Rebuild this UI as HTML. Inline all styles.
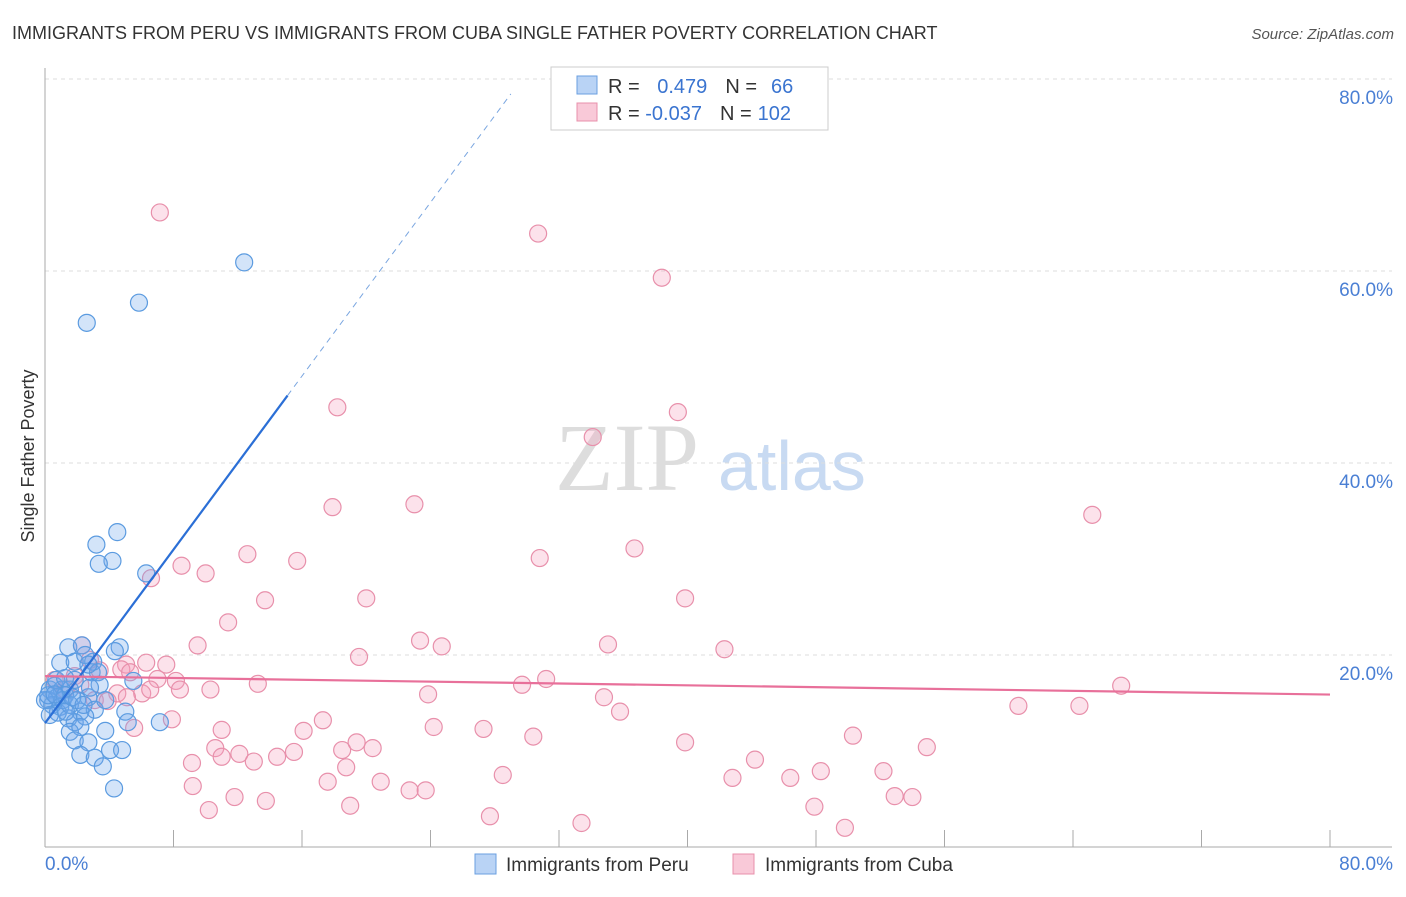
<!DOCTYPE html>
<html><head><meta charset="utf-8"><style>
body{margin:0;background:#fff;font-family:"Liberation Sans",sans-serif}
</style></head><body>
<svg id="chart" width="1406" height="892" xmlns="http://www.w3.org/2000/svg" font-family="Liberation Sans, sans-serif">
<text x="12" y="39" font-size="18" fill="#333">IMMIGRANTS FROM PERU VS IMMIGRANTS FROM CUBA SINGLE FATHER POVERTY CORRELATION CHART</text>
<text x="1394" y="39" font-size="15" fill="#555" font-style="italic" text-anchor="end">Source: ZipAtlas.com</text>
<text x="555" y="490" font-size="96" fill="#ddd" font-family="Liberation Serif, serif">ZIP</text>
<text x="718" y="490" font-size="70" fill="#c8daf2">atlas</text>
<text transform="translate(34,456) rotate(-90)" font-size="18" fill="#333" text-anchor="middle">Single Father Poverty</text>
<g id="grid"></g><g id="axes"></g><g id="marks"></g><g id="lines"></g>
<g>
<rect x="551" y="67" width="277" height="63" fill="#fff" stroke="#ccc"/>
<rect x="577" y="76" width="20" height="18" fill="#b9d3f5" stroke="#6a9fe0"/>
<rect x="577" y="103" width="20" height="18" fill="#f9c9d8" stroke="#e890ab"/>
<text x="608" y="93" font-size="20" fill="#333">R = <tspan fill="#3a74d0" dx="12">0.479</tspan><tspan fill="#333" dx="18">N =</tspan><tspan fill="#3a74d0" dx="14">66</tspan></text>
<text x="608" y="120" font-size="20" fill="#333">R = <tspan fill="#3a74d0">-0.037</tspan><tspan fill="#333" dx="18">N =</tspan><tspan fill="#3a74d0" dx="6">102</tspan></text>
</g>
<g>
<rect x="475" y="854" width="21" height="20" fill="#b9d3f5" stroke="#6a9fe0"/>
<text x="506" y="871" font-size="19" fill="#333">Immigrants from Peru</text>
<rect x="733" y="854" width="21" height="20" fill="#f9c9d8" stroke="#e890ab"/>
<text x="765" y="871" font-size="19" fill="#333">Immigrants from Cuba</text>
</g>
</svg>
<script>
const xTicks=[0,8,16,24,32,40,48,56,64,72,80];
const yTickVals=[20,40,60,80];
const yTickLabels=["20.0%","40.0%","60.0%","80.0%"];
const peruX=[2.6,5.85,12.4,4.5,3.2,4.2,3.35,6.3,1.45,2.3,4.65,0.95,1.85,3.0,4.35,2.5,2.9,3.3,0.3,0.6,1.05,1.55,0.2,0.75,1.25,1.85,2.7,3.4,5.5,0.45,0.95,2.2,3.1,5.0,1.45,1.85,2.5,0.8,5.15,7.15,1.55,2.2,3.75,1.85,2.7,4.05,4.8,2.2,3.1,3.6,4.3,0.3,0.0,1.1,1.55,0.7,1.25,0.2,2.7,0.6,3.75,1.3,1.7,2.8,2.0,2.4];
const peruY=[54.6,56.7,60.9,32.8,31.5,29.8,29.5,28.5,20.8,21.0,20.8,19.2,19.3,19.3,20.4,20.0,18.2,18.2,16.4,16.8,16.4,16.4,15.3,15.6,15.8,17.4,15.6,16.9,17.3,14.8,14.6,14.1,14.3,14.1,13.4,13.0,13.6,14.0,13.0,13.0,12.0,12.5,12.1,11.1,10.9,10.1,10.1,9.6,9.3,8.4,6.1,13.75,15.3,15.3,14.8,17.4,17.6,15.8,19.0,15.9,15.3,14.1,15.6,16.6,15.3,14.8];
const cubaX=[7.15,30.7,38.4,18.2,39.4,34.1,17.9,23.0,65.2,12.6,30.8,36.7,15.7,8.5,10.0,6.6,13.7,20.0,39.85,11.4,23.35,24.7,35.05,42.3,2.3,9.5,19.55,5.05,6.3,7.55,4.75,5.3,7.0,8.15,13.25,31.2,29.7,67.0,23.85,34.8,2.2,4.5,6.05,5.1,3.1,3.9,35.8,60.6,64.4,7.9,5.55,11.0,16.1,17.3,24.2,27.3,30.4,50.3,39.85,10.6,12.1,9.15,11.0,13.0,14.45,15.5,18.5,19.4,20.4,54.9,9.2,18.75,28.5,42.8,44.2,46.4,48.3,52.2,17.6,20.9,22.7,23.7,11.8,13.75,19.0,10.2,27.7,33.4,47.9,49.8,52.9,54.0,0.6,1.25,1.85,2.8,3.4,8.4,10.3,6.55];
const cubaY=[66.1,63.9,59.3,45.8,45.3,42.7,35.4,35.7,34.6,30.5,30.1,31.1,29.8,29.3,28.5,28.0,25.7,25.9,25.9,23.4,21.5,20.9,21.1,20.6,21.0,21.0,19.8,19.0,19.2,19.0,18.5,18.2,17.5,17.3,17.0,17.5,16.9,16.8,15.9,15.6,16.9,16.0,16.0,15.6,15.3,15.2,14.1,14.7,14.7,13.3,12.4,12.2,12.1,13.2,12.5,12.3,11.5,11.6,10.9,10.3,9.7,8.75,9.4,8.9,9.4,9.9,10.1,10.9,10.3,10.4,6.35,8.3,7.5,7.2,9.1,7.2,7.9,7.9,6.8,6.8,5.9,5.9,5.2,4.8,4.3,3.85,3.2,2.5,4.2,2.0,5.3,5.2,17.4,16.4,17.8,19.5,18.4,16.4,16.4,16.4];
const peruTrend=[12.9,2.26]; // intercept, slope
const cubaTrend=[17.8,-0.024];
const X=v=>45+v*(1330-45)/80, Y=v=>847-v*9.6;
const NS="http://www.w3.org/2000/svg";
function mk(t,a,p){const e=document.createElementNS(NS,t);for(const k in a)e.setAttribute(k,a[k]);p.appendChild(e);return e;}
const grid=document.getElementById('grid'),axes=document.getElementById('axes'),marks=document.getElementById('marks'),lines=document.getElementById('lines');
yTickVals.forEach((v,i)=>{const g=mk('line',{x1:45,x2:1392,y1:Y(v),y2:Y(v),stroke:'#ddd','stroke-dasharray':'4,4'},grid);

const t=mk('text',{x:1393,y:Y(v)+25,'font-size':19,fill:'#4a7fd4','text-anchor':'end'},axes);t.textContent=yTickLabels[i];
});
const ax=mk('line',{x1:45,x2:45,y1:68,y2:847,stroke:'#aaa'},axes);
const bx=mk('line',{x1:45,x2:1392,y1:847,y2:847,stroke:'#aaa'},axes);
xTicks.forEach(v=>{const l=mk('line',{x1:X(v),x2:X(v),y1:830,y2:847,stroke:'#aaa'},axes);});
const xl0=mk('text',{x:45,y:870,'font-size':19,fill:'#4a7fd4'},axes);xl0.textContent='0.0%';
const xl1=mk('text',{x:1393,y:870,'font-size':19,fill:'#4a7fd4','text-anchor':'end'},axes);xl1.textContent='80.0%';
cubaX.forEach((v,i)=>{const c=mk('circle',{cx:X(v),cy:Y(cubaY[i]),r:8.5,fill:'rgba(244,160,188,0.3)',stroke:'#e890ab','stroke-width':1.2},marks);
});
peruX.forEach((v,i)=>{const c=mk('circle',{cx:X(v),cy:Y(peruY[i]),r:8.5,fill:'rgba(110,165,235,0.3)',stroke:'#5b9be0','stroke-width':1.2},marks);
});
const pf=x=>peruTrend[0]+peruTrend[1]*x, cf=x=>cubaTrend[0]+cubaTrend[1]*x;
const xs=15.1, xe=(80-peruTrend[0])/peruTrend[1]*0.88;
const l1=mk('line',{x1:X(0),y1:Y(pf(0)),x2:X(xs),y2:Y(pf(xs)),stroke:'#2b6fd6','stroke-width':2.2},lines);
const l2=mk('line',{x1:X(xs),y1:Y(pf(xs)),x2:X(29),y2:Y(pf(29)),stroke:'#7aa6e0','stroke-width':1,'stroke-dasharray':'6,5'},lines);
const l3=mk('line',{x1:X(0),y1:Y(cf(0)),x2:X(80),y2:Y(cf(80)),stroke:'#e8709a','stroke-width':2.2},lines);
</script>
</body></html>
